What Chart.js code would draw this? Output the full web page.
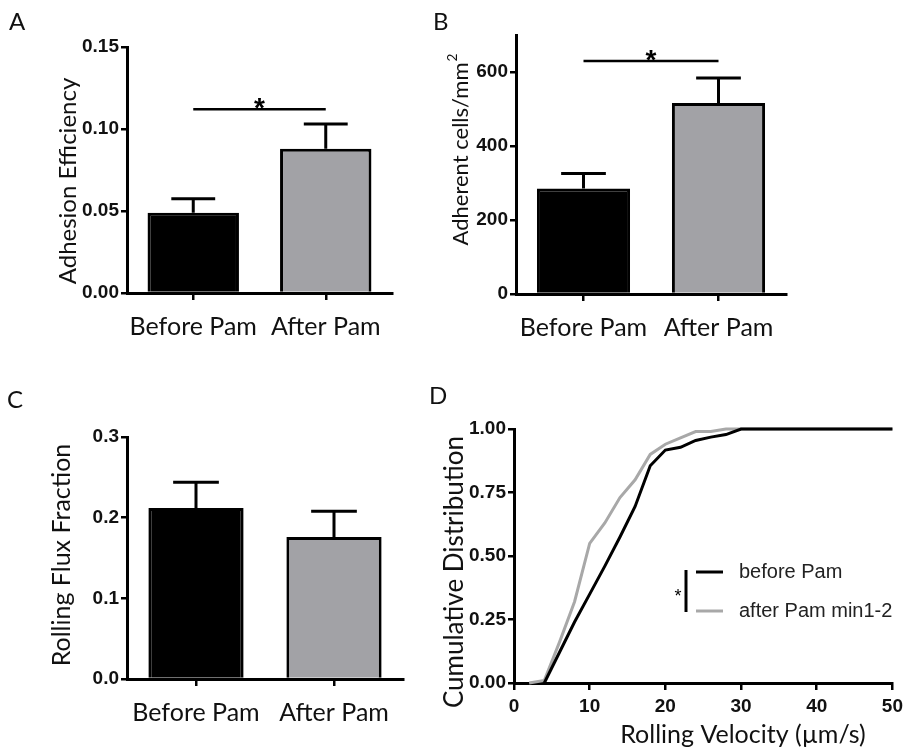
<!DOCTYPE html>
<html>
<head>
<meta charset="utf-8">
<script src="https://cdn.jsdelivr.net/npm/chart.js@4.4.1/dist/chart.umd.min.js"></script>
<style>
html, body { margin: 0; padding: 0; background: #fff; }
#page { position: relative; width: 908px; height: 747px; overflow: hidden; }
.panel { position: absolute; }
#panelA { left: 0; top: 0; width: 420px; height: 380px; }
#panelB { left: 420px; top: 0; width: 488px; height: 380px; }
#panelC { left: 0; top: 380px; width: 420px; height: 367px; }
#panelD { left: 420px; top: 380px; width: 488px; height: 367px; }
</style>
</head>
<body>
<div id="page">
  <div class="panel" id="panelA"><canvas id="chartA"></canvas></div>
  <div class="panel" id="panelB"><canvas id="chartB"></canvas></div>
  <div class="panel" id="panelC"><canvas id="chartC"></canvas></div>
  <div class="panel" id="panelD"><canvas id="chartD"></canvas></div>
</div>
<script>
// groups shared by the three bar panels
var groups = ['Before Pam', 'After Pam'];

// A - adhesion efficiency (mean, SEM)
var adhesionMean = [0.049, 0.088];
var adhesionSem = [0.0085, 0.015];
var adhesionTicks = [0, 0.05, 0.10, 0.15];
var adhesionSig = 0.112;

// B - adherent cells per mm2
var adherentMean = [285, 516];
var adherentSem = [41, 68];
var adherentTicks = [0, 200, 400, 600];
var adherentMax = 700;
var adherentSig = 630;

// C - rolling flux fraction
var fluxMean = [0.212, 0.176];
var fluxSem = [0.032, 0.032];
var fluxTicks = [0, 0.1, 0.2, 0.3];

// D - cumulative distribution of rolling velocity
var beforeVel = [4, 6, 8, 10, 12, 14, 16, 18, 20, 22, 24, 26, 28, 30, 50];
var beforeCdf = [0, 0.12, 0.24, 0.35, 0.46, 0.575, 0.695, 0.855, 0.917, 0.928, 0.955, 0.968, 0.978, 1, 1];
var afterVel = [2, 4, 6, 8, 10, 12, 14, 16, 18, 20, 22, 24, 26, 28, 30, 50];
var afterCdf = [0, 0.01, 0.16, 0.32, 0.55, 0.63, 0.73, 0.80, 0.90, 0.94, 0.965, 0.99, 0.99, 1, 1, 1];
var velocityTicks = [0, 10, 20, 30, 40, 50];
var cdfTicks = [0, 0.25, 0.5, 0.75, 1];


var tickFont = { family: 'Liberation Sans', size: 19, weight: 'bold' };
var labelFamily = 'Lato';

//upper error bars only, like the original
var errorBars = {
    id: 'errorBars',
    afterDatasetsDraw: function (chart, args, opts) {
        if (!opts || !opts.sem) return;
        var ctx = chart.ctx;
        var y = chart.scales.y;
        var mean = chart.data.datasets[0].data;
        ctx.save();
        ctx.strokeStyle = '#000';
        ctx.lineWidth = 3;
        chart.getDatasetMeta(0).data.forEach(function (bar, i) {
            var top = y.getPixelForValue(mean[i] + opts.sem[i]);
            var half = bar.width * 0.24;
            ctx.beginPath();
            ctx.moveTo(bar.x, bar.y);
            ctx.lineTo(bar.x, top);
            ctx.moveTo(bar.x - half, top);
            ctx.lineTo(bar.x + half, top);
            ctx.stroke();
        });
        ctx.restore();
    }
};

//significance bar between the two groups
var sigBar = {
    id: 'sigBar',
    afterDatasetsDraw: function (chart, args, opts) {
        if (!opts || opts.value == null) return;
        var ctx = chart.ctx;
        var x0 = chart.scales.x.getPixelForValue(0);
        var x1 = chart.scales.x.getPixelForValue(1);
        var py = chart.scales.y.getPixelForValue(opts.value);
        ctx.save();
        ctx.strokeStyle = '#000';
        ctx.lineWidth = 2.5;
        ctx.beginPath();
        ctx.moveTo(x0, py);
        ctx.lineTo(x1, py);
        ctx.stroke();
        ctx.fillStyle = '#000';
        ctx.font = 'bold 28px "Liberation Sans"';
        ctx.textAlign = 'center';
        ctx.textBaseline = 'alphabetic';
        ctx.fillText('*', (x0 + x1) / 2, py + 8);
        ctx.restore();
    }
};

//panel letters and axis titles
var panelText = {
    id: 'panelText',
    afterDraw: function (chart, args, opts) {
        if (!opts || !opts.items) return;
        var ctx = chart.ctx;
        ctx.save();
        ctx.fillStyle = '#111';
        opts.items.forEach(function (it) {
            var font = function (size) {
                return (it.weight || 'normal') + ' ' + size + 'px "' + (it.family || labelFamily) + '"';
            };
            ctx.save();
            ctx.font = font(it.size);
            ctx.translate(it.x, it.y);
            if (it.rotate) ctx.rotate(-Math.PI / 2);
            var w = ctx.measureText(it.text).width;
            var sw = 0;
            if (it.sup) {
                ctx.font = font(it.size * 0.62);
                sw = ctx.measureText(it.sup).width;
            }
            var x0 = it.align === 'left' ? 0 : -(w + sw) / 2;
            ctx.textAlign = 'left';
            ctx.textBaseline = it.rotate ? 'middle' : 'alphabetic';
            ctx.font = font(it.size);
            ctx.fillText(it.text, x0, 0);
            if (it.sup) {
                ctx.font = font(it.size * 0.62);
                ctx.fillText(it.sup, x0 + w + 1, -it.size * 0.4);
            }
            ctx.restore();
        });
        ctx.restore();
    }
};

//legend of panel D with the bracket and star
var cdfLegend = {
    id: 'cdfLegend',
    afterDraw: function (chart, args, opts) {
        if (!opts || !opts.rows) return;
        var ctx = chart.ctx;
        ctx.save();
        chart.data.datasets.forEach(function (ds, i) {
            var y = opts.rows[i];
            ctx.strokeStyle = ds.borderColor;
            ctx.lineWidth = 3;
            ctx.beginPath();
            ctx.moveTo(opts.lineX0, y);
            ctx.lineTo(opts.lineX1, y);
            ctx.stroke();
            ctx.fillStyle = '#222';
            ctx.font = '20px "Liberation Sans"';
            ctx.textAlign = 'left';
            ctx.textBaseline = 'middle';
            ctx.fillText(ds.label, opts.textX, y);
        });
        ctx.strokeStyle = '#000';
        ctx.lineWidth = 3;
        ctx.beginPath();
        ctx.moveTo(opts.barX, opts.rows[0] - 2);
        ctx.lineTo(opts.barX, opts.rows[1] + 1);
        ctx.stroke();
        ctx.fillStyle = '#000';
        ctx.font = '18px "Liberation Sans"';
        ctx.textAlign = 'center';
        ctx.textBaseline = 'alphabetic';
        ctx.fillText('*', opts.starX, (opts.rows[0] + opts.rows[1]) / 2 + 10);
        ctx.restore();
    }
};

Chart.register(errorBars, sigBar, panelText, cdfLegend);

function valueAxis(tickValues, max, digits, width) {
    return {
        min: 0,
        max: max,
        afterBuildTicks: function (s) {
            s.ticks = tickValues.map(function (v) { return { value: v }; });
        },
        afterFit: function (s) { s.width = width; },
        border: { display: true, color: '#000', width: 3 },
        grid: { drawOnChartArea: false, color: '#000', lineWidth: 2.5, tickLength: 6 },
        ticks: {
            color: '#111', padding: 2, font: tickFont,
            callback: function (v) { return Number(v).toFixed(digits); }
        }
    };
}

function groupAxis(height) {
    return {
        offset: true,
        afterFit: function (s) { s.height = height; },
        border: { display: true, color: '#000', width: 3 },
        grid: { offset: false, drawOnChartArea: false, color: '#000', lineWidth: 2.5, tickLength: 7 },
        ticks: {
            color: '#111', padding: 12, autoSkip: false, maxRotation: 0, minRotation: 0,
            font: { family: labelFamily, size: 25 }
        }
    };
}

function barChart(id, mean, sem, yAxis, pad, extra) {
    var plugins = {
        legend: { display: false },
        tooltip: { enabled: false },
        errorBars: { sem: sem },
        sigBar: extra.sig,
        panelText: { items: extra.texts }
    };
    return new Chart(document.getElementById(id), {
        type: 'bar',
        data: {
            labels: groups,
            datasets: [{
                data: mean,
                backgroundColor: ['#000000', '#a2a2a6'],
                borderColor: '#000',
                borderWidth: 3,
                barPercentage: 0.69,
                categoryPercentage: 1
            }]
        },
        options: {
            responsive: true,
            maintainAspectRatio: false,
            animation: false,
            devicePixelRatio: 1,
            layout: { padding: pad },
            scales: { x: groupAxis(60), y: yAxis },
            plugins: plugins
        }
    });
}

barChart('chartA', adhesionMean, adhesionSem,
    valueAxis(adhesionTicks, 0.15, 2, 127),
    { left: 0, top: 47, right: 28, bottom: 27 },
    {
        sig: { value: adhesionSig },
        texts: [
            { text: 'A', x: 9, y: 30, size: 24, align: 'left' },
            { text: 'Adhesion Efficiency', x: 68, y: 181, size: 24, rotate: true }
        ]
    });

barChart('chartB', adherentMean, adherentSem,
    valueAxis(adherentTicks, adherentMax, 0, 96),
    { left: 0, top: 35, right: 122, bottom: 26 },
    {
        sig: { value: adherentSig },
        texts: [
            { text: 'B', x: 13, y: 30, size: 24, align: 'left' },
            { text: 'Adherent cells/mm', sup: '2', x: 41, y: 150, size: 22, rotate: true }
        ]
    });

barChart('chartC', fluxMean, fluxSem,
    valueAxis(fluxTicks, 0.3, 1, 127),
    { left: 0, top: 57, right: 17, bottom: 8 },
    {
        sig: false,
        texts: [
            { text: 'C', x: 7, y: 28, size: 24, align: 'left' },
            { text: 'Rolling Flux Fraction', x: 62, y: 175, size: 25, rotate: true }
        ]
    });

new Chart(document.getElementById('chartD'), {
    type: 'line',
    data: {
        datasets: [{
            label: 'before Pam',
            data: beforeVel.map(function (v, i) { return { x: v, y: beforeCdf[i] }; }),
            borderColor: '#000',
            borderWidth: 3,
            pointRadius: 0,
            tension: 0,
            clip: 4
        }, {
            label: 'after Pam min1-2',
            data: afterVel.map(function (v, i) { return { x: v, y: afterCdf[i] }; }),
            borderColor: '#a8a8a8',
            borderWidth: 3,
            pointRadius: 0,
            tension: 0,
            clip: 4
        }]
    },
    options: {
        responsive: true,
        maintainAspectRatio: false,
        animation: false,
        devicePixelRatio: 1,
        layout: { padding: { left: 0, top: 49, right: 11, bottom: 24 } },
        scales: {
            x: {
                type: 'linear',
                min: 0,
                max: 50,
                afterBuildTicks: function (s) {
                    s.ticks = velocityTicks.map(function (v) { return { value: v }; });
                },
                afterFit: function (s) { s.height = 40; },
                border: { display: true, color: '#000', width: 3 },
                grid: { drawOnChartArea: false, color: '#000', lineWidth: 2.5, tickLength: 7 },
                ticks: { color: '#111', padding: 5, font: tickFont, callback: function (v) { return String(v); } }
            },
            y: valueAxis(cdfTicks, 1, 2, 94)
        },
        plugins: {
            legend: { display: false },
            tooltip: { enabled: false },
            cdfLegend: { rows: [192, 231], lineX0: 276, lineX1: 303, textX: 319, barX: 266, starX: 258 },
            panelText: {
                items: [
                    { text: 'D', x: 9, y: 24, size: 24, align: 'left' },
                    { text: 'Cumulative Distribution', x: 35, y: 192, size: 26, rotate: true },
                    { text: 'Rolling Velocity (\u00b5m/s)', x: 323, y: 363, size: 25 }
                ]
            }
        }
    }
});
</script>
</body>
</html>
